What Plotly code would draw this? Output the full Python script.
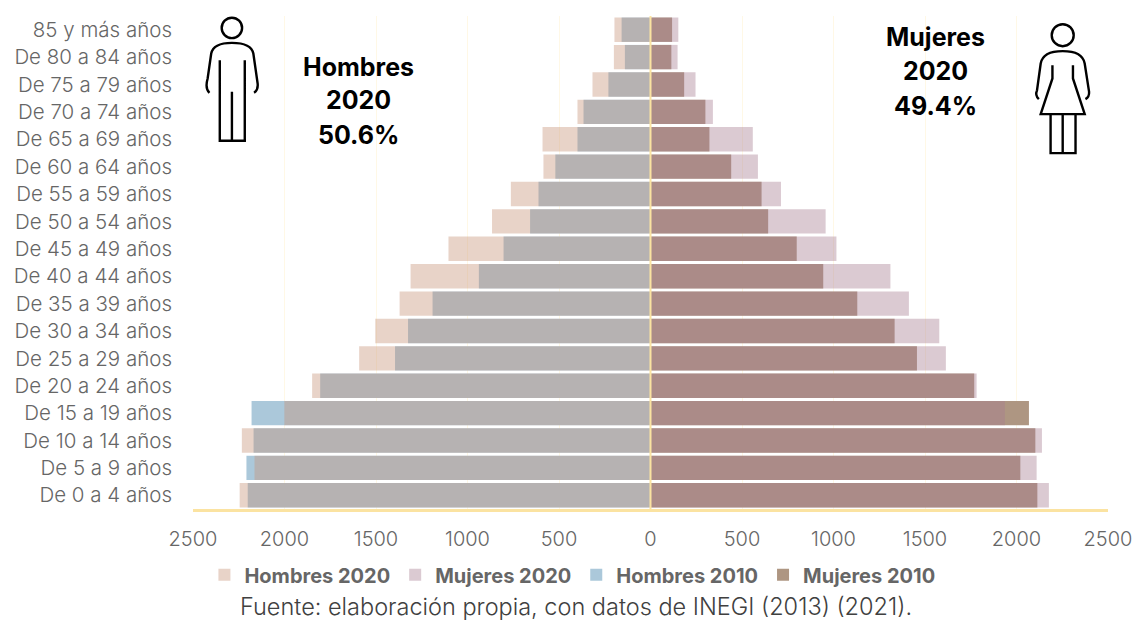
import plotly.graph_objects as go

W, H = 1135, 622
L, R, T, B = 192.5, 1107.7, 15.8, 509.2

grupos = ["85 y más años", "De 80 a 84 años", "De 75 a 79 años", "De 70 a 74 años", "De 65 a 69 años",
          "De 60 a 64 años", "De 55 a 59 años", "De 50 a 54 años", "De 45 a 49 años", "De 40 a 44 años",
          "De 35 a 39 años", "De 30 a 34 años", "De 25 a 29 años", "De 20 a 24 años", "De 15 a 19 años",
          "De 10 a 14 años", "De 5 a 9 años", "De 0 a 4 años"]
hombres_2020 = [197, 200, 317, 399, 590, 585, 763, 866, 1104, 1311, 1371, 1504, 1592, 1849, 2001, 2233, 2164, 2245]
hombres_2010 = [158, 140, 230, 366, 399, 520, 612, 658, 803, 938, 1191, 1325, 1396, 1805, 2180, 2169, 2208, 2201]
mujeres_2020 = [152, 148, 246, 341, 559, 587, 713, 957, 1016, 1311, 1412, 1578, 1614, 1782, 1937, 2139, 2110, 2177]
mujeres_2010 = [118, 114, 184, 300, 322, 441, 607, 643, 799, 944, 1130, 1334, 1456, 1769, 2068, 2103, 2021, 2114]
ticks_x = [-2500, -2000, -1500, -1000, -500, 0, 500, 1000, 1500, 2000, 2500]
etiquetas_x = ["2500", "2000", "1500", "1000", "500", "0", "500", "1000", "1500", "2000", "2500"]

FONT = "Inter"
GRAY = "#666666"


def neg(v):
    return [-a for a in v]


def bar(name, x, color, rank, opacity=1.0):
    return go.Bar(y=grupos, x=x, name=name, orientation="h", legendrank=rank, opacity=opacity,
                  marker=dict(color=color, line=dict(width=0)), hoverinfo="name+x+y")


fig = go.Figure()
fig.add_trace(bar("Hombres 2010", neg(hombres_2010), "#ABC8DA", 3))
fig.add_trace(bar("Mujeres 2010", mujeres_2010, "#AE9682", 4))
fig.add_trace(bar("Hombres 2020", neg(hombres_2020), "rgb(200,147,120)", 1, 0.4))
fig.add_trace(bar("Mujeres 2020", mujeres_2020, "rgb(167,125,145)", 2, 0.4))


def px(x):
    return (x - L) / (R - L)


def py(y):
    return (B - y) / (B - T)


def path(cmds, sx, sy, ox=0.0, oy=0.0):
    out = []
    for c in cmds:
        if isinstance(c, str):
            out.append(c)
        else:
            out.append(f"{px(ox + c[0] / sx):.5f},{py(oy + c[1] / sy):.5f}")
    return " ".join(out)


def icon(cmds, sx, sy, ox=0.0):
    return dict(type="path", xref="paper", yref="paper", path=path(cmds, sx, sy, ox),
                line=dict(color="#000000", width=2.4), layer="above")


def circle(cx, cy, r):
    return dict(type="circle", xref="paper", yref="paper", x0=px(cx - r), x1=px(cx + r),
                y0=py(cy + r), y1=py(cy - r), line=dict(color="#000000", width=2.4), layer="above")


man = [
    "M", (585, 278), "Q", (572, 265), (580, 235), "L", (590, 160), "Q", (596, 128), (648, 128),
    "Q", (702, 128), (708, 160), "L", (720, 250), "Q", (722, 270), (710, 278),
    "M", (614, 180), "L", (614, 422), "L", (684, 422), "L", (684, 180),
    "M", (648, 275), "L", (648, 422),
]
woman = [
    "M", (1305, 297), "Q", (1294, 285), (1300, 270), "L", (1310, 190), "Q", (1316, 153), (1370, 153),
    "Q", (1424, 153), (1430, 190), "L", (1442, 275), "Q", (1443, 290), (1432, 297),
    "M", (1342, 195), "L", (1342, 235), "L", (1310, 342), "L", (1430, 342), "L", (1398, 235), "L", (1398, 195),
    "M", (1337, 342), "L", (1337, 459), "L", (1405, 459), "L", (1405, 342),
    "M", (1370, 342), "L", (1370, 459),
]
shapes = [
    dict(type="line", xref="x", yref="paper", x0=0, x1=0, y0=0, y1=1, layer="above",
         line=dict(color="#FBE3A1", width=2)),
    icon(man, 2.8, 3.0),
    circle(231.4, 27.7, 10.2),
    icon(woman, 2.727, 3.0, 560.0),
    circle(1062.4, 35.0, 11.0),
]

annotations = []
for xc, yc, txt in [(358, 67, "Hombres"), (358, 100, "2020"), (358, 135, "50.6%"),
                    (935, 37, "Mujeres"), (935, 71, "2020"), (935, 106, "49.4%")]:
    annotations.append(dict(xref="paper", yref="paper", x=px(xc), y=py(yc), text=f"<b>{txt}</b>",
                            showarrow=False, xanchor="center", yanchor="middle",
                            font=dict(family=FONT, size=25, color="#000000")))
annotations.append(dict(xref="paper", yref="paper", x=px(576), y=py(607),
                        text="Fuente: elaboración propia, con datos de INEGI (2013) (2021).",
                        showarrow=False, xanchor="center", yanchor="middle",
                        font=dict(family=FONT, size=23.5, color="#404040", weight=300)))

fig.update_layout(
    width=W, height=H, barmode="overlay", bargap=0.11,
    margin=dict(l=L, r=W - R, t=T, b=H - B, pad=0, autoexpand=False),
    paper_bgcolor="#FFFFFF", plot_bgcolor="#FFFFFF",
    font=dict(family=FONT, size=18, color=GRAY),
    shapes=shapes, annotations=annotations,
    legend=dict(orientation="h", xref="paper", yref="paper", x=px(572), xanchor="center",
                y=py(575), yanchor="middle", font=dict(family=FONT, size=20, color=GRAY, weight="bold"),
                itemclick=False, itemdoubleclick=False, traceorder="normal"),
    xaxis=dict(range=[-2500, 2500], tickmode="array", tickvals=ticks_x, ticktext=etiquetas_x, automargin=False,
               showgrid=True, gridcolor="#FFF8E6", gridwidth=1, zeroline=False, showline=True,
               linecolor="#FBE3A1", linewidth=2.5, ticks="", ticklabelstandoff=10,
               tickfont=dict(family=FONT, size=20, color=GRAY, weight=300), fixedrange=True),
    yaxis=dict(categoryorder="array", categoryarray=grupos, autorange=False, range=[17.5, -0.5], automargin=False,
               showgrid=False, zeroline=False, showline=False, ticks="", ticklabelstandoff=20,
               tickfont=dict(family=FONT, size=20.5, color=GRAY, weight=300), fixedrange=True),
)

fig.write_html("out.html", config={"displayModeBar": False},
               post_script="document.body.style.margin='0';")
